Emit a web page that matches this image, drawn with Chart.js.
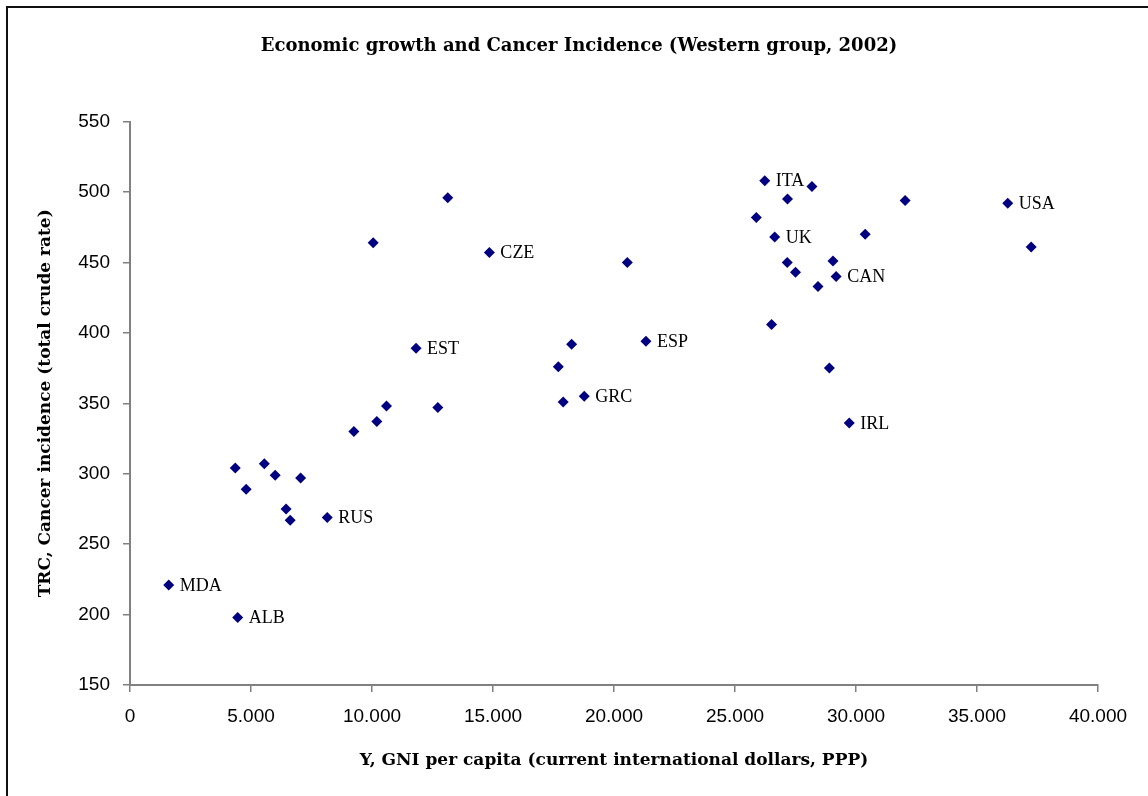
<!DOCTYPE html>
<html>
<head>
<meta charset="utf-8">
<script src="https://cdn.jsdelivr.net/npm/chart.js@4"></script>
<style>
  html, body { margin: 0; padding: 0; background: #fff; }
  #wrap { width: 1148px; height: 796px; }
</style>
</head>
<body>
<div id="wrap"><canvas id="cancerChart"></canvas></div>
<script>
// GNI per capita (PPP, current intl $) and total crude cancer incidence rate
const countries = ['MDA', 'ALB', '', '', '', '', '', '', '', 'RUS',
  '', '', '', '', 'EST', '', '', 'CZE', '', '',
  '', 'GRC', '', 'ESP', 'ITA', '', '', '', 'UK', '',
  '', 'USA', '', '', '', '', 'CAN', '', '', '', 'IRL'];
const gniValues = [1600, 4450, 4350, 4800, 5550, 6000, 7050, 6450, 6620, 8150,
  9250, 10200, 10600, 12720, 11820, 10050, 13130, 14850, 17700, 17900,
  18250, 18770, 20550, 21320, 26230, 28180, 27170, 25880, 26640, 30380,
  32030, 36270, 37240, 27160, 27500, 29050, 29180, 28430, 26510, 28900, 29720];
const incidenceValues = [221, 198, 304, 289, 307, 299, 297, 275, 267, 269,
  330, 337, 348, 347, 389, 464, 496, 457, 376, 351,
  392, 355, 450, 394, 508, 504, 495, 482, 468, 470,
  494, 492, 461, 450, 443, 451, 440, 433, 406, 375, 336];

const xTicks = [0, 5000, 10000, 15000, 20000, 25000, 30000, 35000, 40000];
const yTicks = [150, 200, 250, 300, 350, 400, 450, 500, 550];

const points = gniValues.map((x, i) => ({ x, y: incidenceValues[i] }));

const axisGray = '#808080';

// Country codes next to the diamonds, plus the cropped page frame
const labelPlugin = {
  id: 'pointLabels',
  beforeDraw(chart) {
    const ctx = chart.ctx;
    ctx.save();
    ctx.strokeStyle = '#111';
    ctx.lineWidth = 2;
    ctx.strokeRect(7, 7, 1160, 820);
    ctx.restore();
  },
  afterDatasetsDraw(chart) {
    const ctx = chart.ctx;
    const meta = chart.getDatasetMeta(0);
    ctx.save();
    ctx.font = '18px "Liberation Serif"';
    ctx.fillStyle = '#000';
    ctx.textAlign = 'left';
    ctx.textBaseline = 'middle';
    countries.forEach((name, i) => {
      if (!name) return;
      const pt = meta.data[i];
      ctx.fillText(name, pt.x + 11, pt.y + 1);
    });
    ctx.restore();
  }
};

new Chart(document.getElementById('cancerChart'), {
  type: 'scatter',
  data: {
    datasets: [{
      data: points,
      pointStyle: 'rectRot',
      pointRadius: 5.5,
      pointHoverRadius: 5.5,
      backgroundColor: '#000080',
      borderColor: '#000080',
      borderWidth: 0
    }]
  },
  plugins: [labelPlugin],
  options: {
    responsive: true,
    maintainAspectRatio: false,
    animation: false,
    layout: { padding: { left: 10, right: 0, top: 0, bottom: 0 } },
    plugins: {
      legend: { display: false },
      tooltip: { enabled: false },
      title: {
        display: true,
        text: 'Economic growth and Cancer Incidence (Western group, 2002)',
        color: '#000',
        font: { family: 'DejaVu Serif', size: 18, weight: 'bold', lineHeight: 1.2 },
        padding: { top: 36, bottom: 64 }
      }
    },
    scales: {
      x: {
        type: 'linear',
        min: 0,
        max: 40000,
        afterBuildTicks: scale => { scale.ticks = xTicks.map(v => ({ value: v })); },
        afterFit: scale => { scale.height = 111; },
        border: { display: true, color: axisGray, width: 2 },
        grid: { display: true, drawOnChartArea: false, drawTicks: true, tickLength: 7, color: axisGray, lineWidth: 1.5 },
        ticks: {
          color: '#000',
          font: { family: 'Liberation Sans', size: 19 },
          padding: 13,
          maxRotation: 0,
          callback: v => v === 0 ? '0' : v.toLocaleString('de-DE')
        },
        title: {
          display: true,
          text: 'Y, GNI per capita (current international dollars, PPP)',
          color: '#000',
          font: { family: 'DejaVu Serif', size: 17, weight: 'bold', lineHeight: 1.2 },
          padding: { top: 0, bottom: 25 }
        }
      },
      y: {
        type: 'linear',
        min: 150,
        max: 550,
        afterBuildTicks: scale => { scale.ticks = yTicks.map(v => ({ value: v })); },
        afterFit: scale => { scale.width = 120; },
        border: { display: true, color: axisGray, width: 2 },
        grid: { display: true, drawOnChartArea: false, drawTicks: true, tickLength: 7, color: axisGray, lineWidth: 1.5 },
        ticks: {
          color: '#000',
          font: { family: 'Liberation Sans', size: 19 },
          padding: 13
        },
        title: {
          display: true,
          text: 'TRC, Cancer incidence (total crude rate)',
          color: '#000',
          font: { family: 'DejaVu Serif', size: 17, weight: 'bold', lineHeight: 1.2 },
          padding: { top: 25, bottom: 0 }
        }
      },
      yRight: {
        position: 'right',
        display: true,
        afterFit: scale => { scale.width = 50; },
        border: { display: false },
        grid: { display: false },
        ticks: { display: false }
      }
    }
  }
});
</script>
</body>
</html>
